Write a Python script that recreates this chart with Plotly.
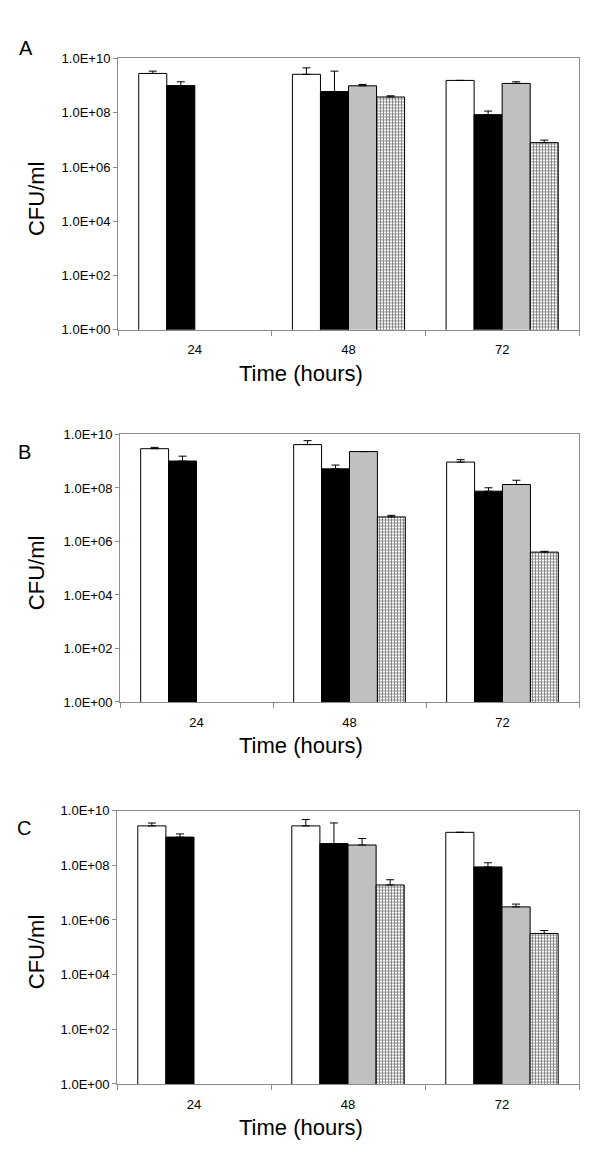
import plotly.graph_objects as go

hours = ["24", "48", "72"]
y_ticks = [1e0, 1e2, 1e4, 1e6, 1e8, 1e10]
y_tick_text = ["1.0E+00", "1.0E+02", "1.0E+04", "1.0E+06", "1.0E+08", "1.0E+10"]
panel_labels = ["A", "B", "C"]

# Panel A
a_white = [2.8e9, 2.6e9, 1.55e9]
a_white_err = [6.0e8, 1.9e9, 0]
a_black = [1.0e9, 6.0e8, 8.5e7]
a_black_err = [3.8e8, 2.8e9, 3.0e7]
a_gray = [None, 9.8e8, 1.2e9]
a_gray_err = [0, 1.2e8, 1.8e8]
a_hatch = [None, 3.8e8, 7.9e6]
a_hatch_err = [0, 4.0e7, 1.9e6]

# Panel B
b_white = [2.95e9, 4.2e9, 9.3e8]
b_white_err = [3.5e8, 1.7e9, 2.2e8]
b_black = [1.02e9, 5.2e8, 7.6e7]
b_black_err = [5.3e8, 2.0e8, 2.6e7]
b_gray = [None, 2.3e9, 1.35e8]
b_gray_err = [0, 0, 6.0e7]
b_hatch = [None, 8.3e6, 4.0e5]
b_hatch_err = [0, 1.2e6, 3.0e4]

# Panel C
c_white = [2.75e9, 2.75e9, 1.6e9]
c_white_err = [7.5e8, 1.95e9, 0]
c_black = [1.07e9, 6.2e8, 8.7e7]
c_black_err = [3.3e8, 2.9e9, 3.6e7]
c_gray = [None, 5.5e8, 3.0e6]
c_gray_err = [0, 4.0e8, 8.0e5]
c_hatch = [None, 1.9e7, 3.2e5]
c_hatch_err = [0, 1.05e7, 9.0e4]

panels = [
    (a_white, a_white_err, a_black, a_black_err, a_gray, a_gray_err, a_hatch, a_hatch_err),
    (b_white, b_white_err, b_black, b_black_err, b_gray, b_gray_err, b_hatch, b_hatch_err),
    (c_white, c_white_err, c_black, c_black_err, c_gray, c_gray_err, c_hatch, c_hatch_err),
]

W, H = 600, 1159
# pixel boxes: (left, right, top, bottom)
boxes = [(110, 571, 44, 319), (112, 571, 425, 696), (109, 571, 806, 1083)]
letter_pos = [(18, 33), (16, 443), (16, 824)]

FONT = "Liberation Sans, Arial, sans-serif"
AXC = "#8c8c8c"

fig = go.Figure()
layout = dict(
    width=W, height=H, margin=dict(l=0, r=0, t=0, b=0),
    paper_bgcolor="white", plot_bgcolor="white",
    barmode="group", bargap=0.27, bargroupgap=0,
    showlegend=False, font=dict(family=FONT, color="black"),
    annotations=[],
)

styles = [
    dict(color="white"),
    dict(color="black"),
    dict(color="#c0c0c0"),
    dict(color="white", pattern=dict(shape="+", size=3, solidity=0.5, fgcolor="black", bgcolor="white", fillmode="overlay")),
]

for i, (pdata, box) in enumerate(zip(panels, boxes)):
    suffix = "" if i == 0 else str(i + 1)
    xa, ya = "x" + suffix, "y" + suffix
    for k in range(4):
        vals = pdata[2 * k]
        errs = pdata[2 * k + 1]
        fig.add_trace(go.Bar(
            x=hours, y=vals, xaxis=xa, yaxis=ya,
            marker=dict(line=dict(color="black", width=1), **styles[k]),
            error_y=dict(type="data", array=errs, arrayminus=[0] * len(errs), symmetric=False,
                         color="black", thickness=1, width=4),
            offsetgroup=str(k),
        ))
    l, r, t, b = box
    layout["xaxis" + suffix] = dict(
        domain=[l / W, r / W], anchor=ya, type="category",
        showline=True, linecolor=AXC, linewidth=1, mirror=True,
        ticks="outside", tickson="boundaries", ticklen=5, tickcolor=AXC,
        ticklabelstandoff=8,
        tickfont=dict(size=13, family=FONT, color="black"), showgrid=False,
    )
    layout["yaxis" + suffix] = dict(
        domain=[1 - b / H, 1 - t / H], anchor=xa, type="log", range=[0, 10],
        tickvals=y_ticks, ticktext=y_tick_text,
        showline=True, linecolor=AXC, linewidth=1, mirror=True,
        ticks="outside", ticklen=4, tickcolor=AXC,
        tickfont=dict(size=13, family=FONT, color="black"), showgrid=False, zeroline=False,
    )
    # axis titles
    layout["annotations"].append(dict(
        text="Time (hours)", x=293 / W, y=1 - (b + 44) / H, xref="paper", yref="paper",
        xanchor="center", yanchor="middle", showarrow=False, font=dict(size=22, family=FONT, color="black")))
    layout["annotations"].append(dict(
        text="CFU/ml", x=28 / W, y=1 - ((t + b) / 2 + 5) / H, xref="paper", yref="paper",
        xanchor="center", yanchor="middle", textangle=-90, showarrow=False,
        font=dict(size=22, family=FONT, color="black")))
    lx, ly = letter_pos[i]
    layout["annotations"].append(dict(
        text=panel_labels[i], x=lx / W, y=1 - ly / H, xref="paper", yref="paper",
        xanchor="center", yanchor="middle", showarrow=False, font=dict(size=20, family=FONT, color="black")))

fig.update_layout(**layout)
fig.write_html("out.html")
